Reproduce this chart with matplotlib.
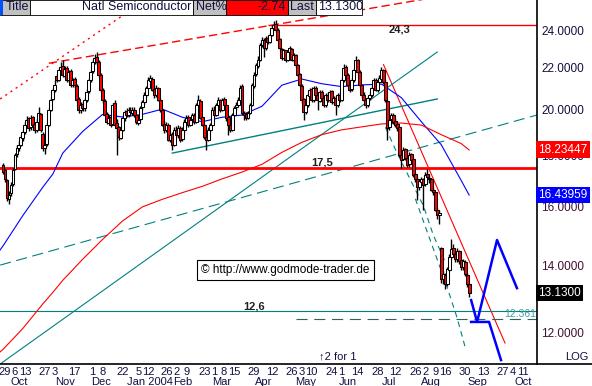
import numpy as np
import pandas as pd
import matplotlib
matplotlib.use("Agg")
import matplotlib.pyplot as plt
import matplotlib.transforms as mtransforms
from matplotlib.patches import Rectangle
from matplotlib.ticker import NullLocator

plt.rcParams['font.family'] = ['Liberation Sans', 'DejaVu Sans']

W, H = 592, 386

# trading calendar (NYSE holidays removed)
holidays = ["2003-11-27", "2003-12-25", "2004-01-01", "2004-01-19", "2004-02-16",
            "2004-04-09", "2004-05-31", "2004-06-11", "2004-07-05", "2004-09-06"]
days = pd.bdate_range("2003-09-26", "2004-10-29")
days = days[~days.isin(pd.to_datetime(holidays))]

# daily candles, 26 Sep 2003 .. 1 Sep 2004
opens = [
    17.60, 17.40, 17.00, 16.30, 16.50, 16.85, 17.45, 18.05, 18.30, 18.45,
    18.75, 19.00, 19.30, 19.60, 19.20, 19.65, 19.35, 19.10, 19.45, 19.80,
    18.90, 18.30, 18.50, 19.30, 20.00, 20.50, 20.90, 21.60, 21.40, 21.90,
    22.10, 21.60, 22.00, 21.40, 21.85, 21.15, 21.45, 21.10, 20.50, 20.00,
    20.25, 20.05, 20.45, 20.85, 21.40, 21.85, 22.30, 22.55, 22.30, 21.65,
    20.90, 20.40, 19.80, 19.40, 19.65, 19.35, 20.30, 19.40, 19.20, 18.75,
    19.10, 19.60, 19.95, 19.75, 20.00, 19.85, 20.00, 19.75, 19.40, 19.55,
    20.10, 20.35, 20.70, 21.00, 21.35, 21.45, 20.95, 20.70, 21.00, 20.45,
    20.00, 19.35, 19.10, 19.30, 18.65, 18.90, 18.45, 19.10, 18.85, 19.15,
    18.70, 19.10, 19.45, 19.65, 19.30, 19.55, 19.75, 19.45, 20.20, 20.40,
    19.65, 19.30, 18.80, 18.65, 19.10, 19.30, 20.00, 19.75, 20.20, 20.45,
    20.00, 20.50, 20.20, 19.65, 19.30, 19.10, 19.75, 20.10, 20.20, 20.45,
    21.10, 19.85, 19.80, 19.60, 19.85, 20.20, 21.10, 21.70, 22.10, 22.40,
    23.20, 23.45, 23.05, 23.55, 23.35, 23.75, 24.10, 24.35, 24.00, 23.50,
    23.00, 22.50, 22.90, 22.40, 22.80, 23.00, 22.40, 22.65, 22.15, 21.70,
    21.10, 20.50, 19.90, 20.20, 20.65, 20.95, 20.45, 21.00, 20.70, 20.40,
    20.80, 20.55, 20.20, 20.70, 20.45, 20.85, 20.35, 20.55, 20.20, 20.70,
    20.45, 21.40, 22.05, 21.65, 21.15, 20.95, 21.40, 21.90, 22.40, 21.80,
    21.15, 20.70, 20.45, 20.20, 20.55, 20.70, 21.00, 21.40, 20.90, 21.30,
    21.45, 21.90, 21.30, 20.40, 19.20, 19.55, 19.75, 19.50, 19.35, 19.20,
    18.00, 17.85, 18.25, 17.90, 17.65, 18.05, 17.85, 17.25, 17.05, 16.75,
    16.95, 17.05, 16.85, 17.25, 17.10, 17.05, 16.65, 16.55, 15.90, 15.70,
    14.55, 13.55, 13.70, 13.40, 13.85, 14.25, 14.55, 14.35, 14.20, 14.45,
    14.15, 13.95, 14.10, 13.70, 13.40,
]
closes = [
    17.35, 17.04, 16.34, 16.46, 16.84, 17.43, 18.04, 18.33, 18.45, 18.77,
    18.98, 19.31, 19.54, 19.18, 19.63, 19.31, 19.10, 19.45, 19.86, 19.10,
    18.33, 18.45, 19.31, 19.99, 20.45, 20.92, 21.16, 21.40, 21.90, 22.05,
    21.65, 21.95, 21.40, 21.80, 21.16, 21.40, 21.16, 20.45, 19.99, 20.21,
    20.08, 20.45, 20.82, 21.40, 21.80, 22.31, 22.52, 22.31, 21.65, 20.92,
    20.45, 19.76, 19.45, 19.63, 19.31, 20.21, 19.31, 19.18, 18.76, 19.10,
    19.63, 19.90, 19.76, 19.99, 19.90, 19.99, 19.76, 19.45, 19.54, 20.08,
    20.36, 20.68, 21.02, 21.40, 21.50, 20.92, 20.68, 21.02, 20.45, 19.99,
    19.31, 19.10, 19.31, 18.67, 18.88, 18.45, 19.10, 18.88, 19.18, 18.67,
    19.10, 19.45, 19.63, 19.31, 19.54, 19.76, 19.45, 20.21, 20.45, 19.63,
    19.31, 18.76, 18.67, 19.10, 19.31, 19.99, 19.76, 20.21, 20.45, 19.99,
    20.45, 20.21, 19.63, 19.31, 19.10, 19.76, 20.08, 20.21, 20.45, 21.02,
    19.86, 19.76, 19.63, 19.86, 20.21, 21.16, 21.65, 22.15, 22.41, 23.19,
    23.46, 23.02, 23.57, 23.35, 23.73, 24.11, 24.28, 24.00, 23.46, 23.02,
    22.52, 22.93, 22.41, 22.82, 23.02, 22.41, 22.67, 22.15, 21.65, 21.16,
    20.45, 19.90, 20.21, 20.68, 20.92, 20.45, 21.02, 20.68, 20.45, 20.82,
    20.54, 20.21, 20.68, 20.45, 20.82, 20.36, 20.54, 20.21, 20.68, 20.45,
    21.40, 22.00, 21.65, 21.16, 20.92, 21.40, 21.90, 22.41, 21.80, 21.16,
    20.68, 20.45, 20.21, 20.54, 20.68, 21.02, 21.40, 20.92, 21.30, 21.50,
    21.90, 21.30, 20.45, 19.18, 19.54, 19.76, 19.45, 19.31, 19.18, 18.04,
    17.83, 18.24, 17.91, 17.63, 18.04, 17.83, 17.23, 17.04, 16.73, 16.96,
    17.04, 16.84, 17.23, 17.12, 17.04, 16.65, 16.57, 15.90, 15.72, 15.79,
    13.56, 13.71, 13.40, 13.87, 14.25, 14.52, 14.36, 14.19, 14.46, 14.13,
    13.93, 14.13, 13.71, 13.40, 13.13,
]
highs = [
    17.70, 17.45, 17.05, 16.60, 16.95, 17.50, 18.10, 18.45, 18.60, 18.85,
    19.10, 19.45, 19.70, 19.65, 19.75, 19.70, 19.40, 19.55, 20.10, 19.85,
    19.00, 18.60, 19.40, 20.05, 20.55, 21.00, 21.40, 21.70, 22.00, 22.30,
    22.40, 22.10, 22.10, 21.90, 21.95, 21.50, 21.55, 21.20, 20.60, 20.35,
    20.35, 20.55, 20.95, 21.50, 21.90, 22.45, 22.70, 22.80, 22.40, 21.75,
    21.00, 20.50, 19.90, 19.75, 19.75, 20.30, 20.45, 19.55, 19.25, 19.20,
    19.75, 20.00, 20.05, 20.10, 20.10, 20.10, 20.10, 19.85, 19.65, 20.15,
    20.45, 20.80, 21.10, 21.55, 21.65, 21.55, 21.05, 21.15, 21.05, 20.55,
    20.05, 19.50, 19.45, 19.40, 18.95, 19.00, 19.20, 19.25, 19.30, 19.25,
    19.20, 19.55, 19.75, 19.75, 19.65, 19.85, 19.85, 20.30, 20.70, 20.50,
    19.70, 19.40, 18.90, 19.20, 19.40, 20.10, 20.15, 20.30, 20.60, 20.50,
    20.55, 20.60, 20.25, 19.75, 19.40, 19.85, 20.15, 20.35, 20.60, 21.15,
    21.20, 19.95, 19.90, 19.95, 20.30, 21.25, 21.80, 22.25, 22.60, 23.30,
    23.60, 23.55, 23.65, 23.65, 23.85, 24.25, 24.50, 24.56, 24.10, 23.55,
    23.05, 23.00, 22.95, 22.90, 23.15, 23.05, 22.75, 22.70, 22.20, 21.75,
    21.20, 20.55, 20.30, 20.75, 21.00, 21.05, 21.10, 21.10, 20.80, 20.90,
    20.90, 20.65, 20.75, 20.80, 20.90, 20.90, 20.65, 20.65, 20.75, 20.80,
    21.50, 22.20, 22.15, 21.75, 21.25, 21.50, 22.00, 22.60, 22.45, 21.90,
    21.20, 20.80, 20.55, 20.65, 20.80, 21.10, 21.50, 21.50, 21.40, 21.65,
    22.05, 21.95, 21.40, 20.45, 19.65, 19.85, 19.85, 19.60, 19.45, 19.25,
    18.10, 18.35, 18.30, 18.00, 18.15, 18.10, 17.90, 17.30, 17.15, 17.05,
    17.15, 17.10, 17.35, 17.45, 17.20, 17.10, 16.75, 16.60, 15.95, 15.90,
    14.60, 13.80, 13.75, 13.95, 14.35, 14.85, 14.70, 14.45, 14.55, 14.50,
    14.20, 14.20, 14.15, 13.75, 13.45,
]
lows = [
    17.25, 16.95, 16.20, 16.09, 16.40, 16.80, 17.40, 17.95, 18.20, 18.40,
    18.60, 18.90, 19.20, 19.05, 19.10, 19.25, 18.95, 19.00, 19.40, 19.00,
    18.20, 18.05, 18.40, 19.25, 19.95, 20.45, 20.80, 21.30, 21.35, 21.80,
    21.55, 21.50, 21.30, 21.30, 21.05, 21.05, 21.00, 20.35, 19.85, 19.85,
    19.95, 19.95, 20.35, 20.75, 21.30, 21.75, 22.20, 22.20, 21.55, 20.80,
    20.30, 19.70, 19.35, 19.35, 19.20, 19.30, 19.25, 18.00, 18.65, 18.70,
    19.05, 19.50, 19.65, 19.65, 19.80, 19.75, 19.65, 19.35, 19.30, 19.50,
    20.00, 20.25, 20.60, 20.95, 21.25, 20.85, 20.55, 20.60, 20.40, 19.90,
    19.25, 18.95, 19.00, 18.60, 18.55, 18.24, 18.40, 18.80, 18.75, 18.55,
    18.60, 19.00, 19.35, 19.20, 19.25, 19.45, 19.35, 19.40, 20.10, 19.55,
    19.25, 18.70, 18.24, 18.60, 19.00, 19.25, 19.65, 19.70, 20.10, 19.90,
    19.95, 20.10, 19.50, 18.88, 19.00, 19.05, 19.70, 20.00, 20.15, 20.40,
    19.75, 19.54, 19.54, 19.55, 19.80, 20.15, 21.00, 21.60, 22.00, 22.35,
    23.10, 22.55, 22.95, 23.25, 23.30, 23.70, 24.00, 23.90, 23.40, 22.95,
    22.40, 22.45, 22.30, 22.35, 22.75, 22.35, 22.30, 22.05, 21.55, 21.05,
    20.30, 19.54, 19.80, 20.10, 20.55, 20.35, 20.35, 20.55, 19.99, 20.35,
    20.45, 20.10, 20.10, 20.35, 20.40, 20.25, 20.25, 19.76, 20.10, 20.35,
    20.40, 21.30, 21.55, 21.05, 20.80, 20.85, 21.30, 21.80, 21.70, 21.05,
    20.55, 20.35, 20.08, 20.10, 20.45, 20.60, 20.95, 20.85, 20.80, 21.20,
    21.40, 21.20, 20.35, 18.67, 19.10, 19.45, 19.35, 19.20, 19.05, 17.95,
    17.50, 17.80, 17.80, 17.55, 17.55, 17.70, 17.15, 16.95, 16.27, 16.65,
    16.85, 15.90, 16.80, 17.00, 16.90, 16.60, 16.45, 15.85, 15.55, 15.40,
    13.45, 13.40, 13.25, 13.35, 13.80, 14.20, 14.30, 14.10, 14.10, 14.05,
    13.85, 13.85, 13.65, 13.30, 13.00,
]

# moving averages (bar number, value)
ma_bars = [-2, 0, 10, 20, 25, 30, 40, 50, 60, 70, 80, 90, 100, 110, 120, 130,
           140, 150, 160, 170, 180, 190, 200, 210, 220, 230, 234]
ma_blue = [14.45, 14.63, 15.69, 16.74, 17.25, 18.10, 19.02, 19.78, 19.66, 19.78,
           20.02, 19.65, 19.45, 19.65, 19.75, 20.15, 21.15, 21.45, 21.22, 21.08,
           21.16, 21.20, 20.55, 19.45, 18.45, 17.00, 16.44]
ma_red = [11.45, 11.54, 12.11, 12.81, 13.15, 13.52, 14.19, 14.85, 15.49, 16.00,
          16.28, 16.53, 16.77, 17.06, 17.33, 17.64, 18.13, 18.55, 18.88, 19.09,
          19.22, 19.35, 19.39, 19.30, 18.88, 18.50, 18.23]

# trend lines: (date, price) pairs
red_dotted = [("2003-09-24", 20.49), ("2004-01-22", 26.40)]
red_dashed = [("2003-10-29", 22.24), ("2004-08-05", 25.83)]
red_fall = [("2004-07-01", 22.17), ("2004-09-28", 11.71)]
teal_support = [("2004-01-29", 18.10), ("2004-08-10", 20.49)]
teal_steep = [("2003-09-24", 11.16), ("2004-08-10", 22.82)]
teal_long = [("2003-09-24", 14.00), ("2004-10-22", 19.80)]
teal_arc1 = [("2004-07-02", 19.20), ("2004-07-12", 18.25), ("2004-07-22", 16.95),
             ("2004-07-30", 16.05), ("2004-08-06", 15.00), ("2004-08-16", 14.10)]
teal_arc2 = [("2004-07-26", 16.30), ("2004-08-03", 15.10), ("2004-08-11", 14.00),
             ("2004-08-17", 13.30), ("2004-08-24", 12.40), ("2004-08-30", 11.60)]
proj_up = [("2004-09-02", 12.92), ("2004-09-08", 12.29), ("2004-09-22", 14.83),
           ("2004-10-06", 13.28)]
proj_down = [("2004-09-02", 12.29), ("2004-09-16", 12.29), ("2004-09-24", 11.26)]

level_top, level_mid, level_low, level_fib = 24.3, 17.5, 12.6, 12.361
level_top_from = "2004-04-07"
level_fib_from = "2004-04-28"

last_price, net_pct = 13.13, -2.74
ma_blue_last, ma_red_last = 16.43959, 18.23447

tick_days = ["2003-09-29", "2003-10-06", "2003-10-13", "2003-10-27", "2003-11-03",
             "2003-11-17", "2003-12-01", "2003-12-08", "2003-12-22", "2004-01-05",
             "2004-01-12", "2004-01-26", "2004-02-02", "2004-02-09", "2004-02-23",
             "2004-03-01", "2004-03-08", "2004-03-15", "2004-03-29", "2004-04-12",
             "2004-04-26", "2004-05-03", "2004-05-10", "2004-05-24", "2004-06-01",
             "2004-06-14", "2004-06-28", "2004-07-12", "2004-07-26", "2004-08-02",
             "2004-08-09", "2004-08-16", "2004-08-30", "2004-09-13", "2004-09-27",
             "2004-10-04", "2004-10-11"]
month_names = ["Oct", "Nov", "Dec", "Jan 2004", "Feb", "Mar", "Apr", "May", "Jun",
               "Jul", "Aug", "Sep", "Oct"]
month_dates = ["2003-10-08", "2003-11-10", "2003-12-05", "2004-01-13", "2004-02-05",
               "2004-03-05", "2004-04-05", "2004-05-05", "2004-06-04", "2004-07-07",
               "2004-08-05", "2004-09-08", "2004-10-11"]
price_ticks = [12, 14, 16, 18, 20, 22, 24]

TEAL = "#008080"
NAVY = "#101040"


def pos(d):
    d = pd.Timestamp(d)
    if d < days[0]:
        return (d - days[0]).days * 5 / 7
    return float(days.searchsorted(d))


def line_xy(pts):
    return [pos(d) for d, _ in pts], [p for _, p in pts]


def fx(x):
    return x / W


def fy(y):
    return 1 - y / H


fig = plt.figure(figsize=(W / 100, H / 100), dpi=100)
ax = fig.add_axes([0, fy(364), fx(537), 364 / H])
ax.set_yscale("log")
ax.set_xlim(-1.51, 268.07)
ax.set_ylim(11.16, 25.71)

# candles
o = np.array(opens)
c = np.array(closes)
h = np.maximum(np.array(highs), np.maximum(o, c))
l = np.minimum(np.array(lows), np.minimum(o, c))
x = np.arange(len(c))
up = c >= o
ax.vlines(x, l, h, color="black", lw=1.0, zorder=4)
ax.bar(x, c - o, bottom=o, width=1.45, color=np.where(up, "white", "#ff0000"),
       edgecolor="black", linewidth=0.75, zorder=5)

# moving averages
ax.plot(ma_bars, ma_blue, color="#0000ff", lw=0.8, zorder=3)
ax.plot(ma_bars, ma_red, color="#ff0000", lw=0.8, zorder=3)

# trend lines
ax.plot(*line_xy(red_dotted), color="#ff0000", lw=1.0, ls=(0, (1.5, 3)), zorder=2)
ax.plot(*line_xy(red_dashed), color="#ff0000", lw=1.0, ls=(0, (6, 3)), zorder=2)
ax.plot(*line_xy(red_fall), color="#ff0000", lw=0.8, zorder=2)
ax.plot(*line_xy(teal_support), color=TEAL, lw=1.0, zorder=2)
ax.plot(*line_xy(teal_steep), color=TEAL, lw=0.8, zorder=2)
ax.plot(*line_xy(teal_long), color=TEAL, lw=0.8, ls=(0, (10, 5)), zorder=2)
ax.plot(*line_xy(teal_arc1), color=TEAL, lw=0.8, ls=(0, (5, 4)), zorder=2)
ax.plot(*line_xy(teal_arc2), color=TEAL, lw=0.8, ls=(0, (5, 4)), zorder=2)
ax.plot(*line_xy(proj_up), color="#0000ff", lw=1.8, zorder=6)
ax.plot(*line_xy(proj_down), color="#0000ff", lw=1.8, zorder=6)

# horizontal levels
xr = ax.get_xlim()[1]
ax.hlines(level_top, pos(level_top_from), xr, color="#ff0000", lw=1.0, zorder=2)
ax.axhline(level_mid, color="#ff0000", lw=2.0, zorder=2)
ax.axhline(level_low, color=TEAL, lw=0.8, zorder=2)
ax.hlines(level_fib, pos(level_fib_from), xr, color="#306060", lw=0.8,
          ls=(0, (10, 6)), zorder=2)

# axes styling
for s in ["left", "top"]:
    ax.spines[s].set_visible(False)
ax.spines["right"].set_linewidth(1.2)
ax.spines["bottom"].set_linewidth(1.2)
ax.yaxis.tick_right()
ax.yaxis.set_minor_locator(NullLocator())
ax.set_yticks(price_ticks)
ax.set_yticklabels([f"{v:.4f}" for v in price_ticks])
ax.tick_params(axis="y", length=0, pad=3, labelsize=8.5)
for t, v in zip(ax.get_yticklabels(), price_ticks):
    t.set_color(NAVY if v >= 18 else "#401030")

ax.set_xticks([pos(d) for d in tick_days])
ax.set_xticklabels([str(pd.Timestamp(d).day) for d in tick_days])
ax.xaxis.set_minor_locator(NullLocator())
ax.tick_params(axis="x", length=0, pad=2, labelsize=8, colors=NAVY)
bt = mtransforms.blended_transform_factory(ax.transData, ax.transAxes)
for name, d in zip(month_names, month_dates):
    ax.text(pos(d), -18 / 364, name, transform=bt, ha="center", va="center",
            fontsize=8, color=NAVY, clip_on=False)

# value boxes on the price axis (they cover the 18.0000 label, as in the original)
rt = mtransforms.blended_transform_factory(ax.transAxes, ax.transData)
for val, bg, txt in [(ma_red_last, "#ff0000", f"{ma_red_last:.5f}"),
                     (ma_blue_last, "#0000ff", f"{ma_blue_last:.5f}"),
                     (last_price, "#000000", f"{last_price:.4f}")]:
    ax.text(1.0 + 1 / 537, val, txt, transform=rt, ha="left", va="center",
            fontsize=8.5, color="white", clip_on=False, zorder=10,
            bbox=dict(boxstyle="square,pad=0.2", fc=bg, ec="none"))

# level labels
ax.text(pos("2004-07-14"), level_top, "24,3", ha="center", va="top",
        fontsize=8, fontweight="bold", color="#202020")
ax.text(pos("2004-05-17"), level_mid, "17,5", ha="center", va="bottom",
        fontsize=8, fontweight="bold", color="#202020")
ax.text(pos("2004-03-29"), level_low, "12,6", ha="center", va="bottom",
        fontsize=8, fontweight="bold", color="#202020")
ax.text(1.0 - 1 / 537, level_fib, f"{level_fib:.3f}", transform=rt, ha="right",
        va="bottom", fontsize=7.5, color="#40a0a0")

# extend the bottom axis line under the price labels
fig.add_artist(plt.Line2D([fx(537), 1], [fy(364), fy(364)], color="black", lw=1.2))


# header strip
def box(x0, x1, fc):
    fig.add_artist(Rectangle((fx(x0), fy(15)), fx(x1 - x0), 15 / H, facecolor=fc,
                             edgecolor="black", lw=0.6, transform=fig.transFigure,
                             zorder=20))


box(0, 30, "#c0c0c0")
fig.add_artist(Rectangle((0, fy(15)), fx(3), 15 / H, facecolor="#0050ff",
                         edgecolor="none", transform=fig.transFigure, zorder=21))
box(30, 193, "white")
box(193, 226, "#c0c0c0")
box(226, 288, "#ff0000")
box(288, 316, "#c0c0c0")
box(316, 362, "white")
hdr = dict(fontsize=9, color=NAVY, va="center", zorder=22)
fig.text(fx(6), fy(7.5), "Title", ha="left", **hdr)
fig.text(fx(191), fy(7.5), "Natl Semiconductor", ha="right", **hdr)
fig.text(fx(196), fy(7.5), "Net%", ha="left", **hdr)
fig.text(fx(286), fy(7.5), f"{net_pct:.2f}", ha="right", **hdr)
fig.text(fx(290), fy(7.5), "Last", ha="left", **hdr)
fig.text(fx(318), fy(7.5), f"{last_price:.4f}", ha="left", **hdr)

# watermark and notes
fig.text(fx(201), fy(270), "\u00a9 http://www.godmode-trader.de", fontsize=8.5,
         color="black", va="center", ha="left", zorder=22,
         bbox=dict(boxstyle="square,pad=0.35", fc="white", ec="black", lw=0.8))
fig.text(fx(319), fy(356), "\u21912 for 1", fontsize=8, color=NAVY, va="center")
fig.text(fx(589), fy(357), "LOG", fontsize=8, color=NAVY, va="center", ha="right")

fig.savefig("out.png", dpi=100)
